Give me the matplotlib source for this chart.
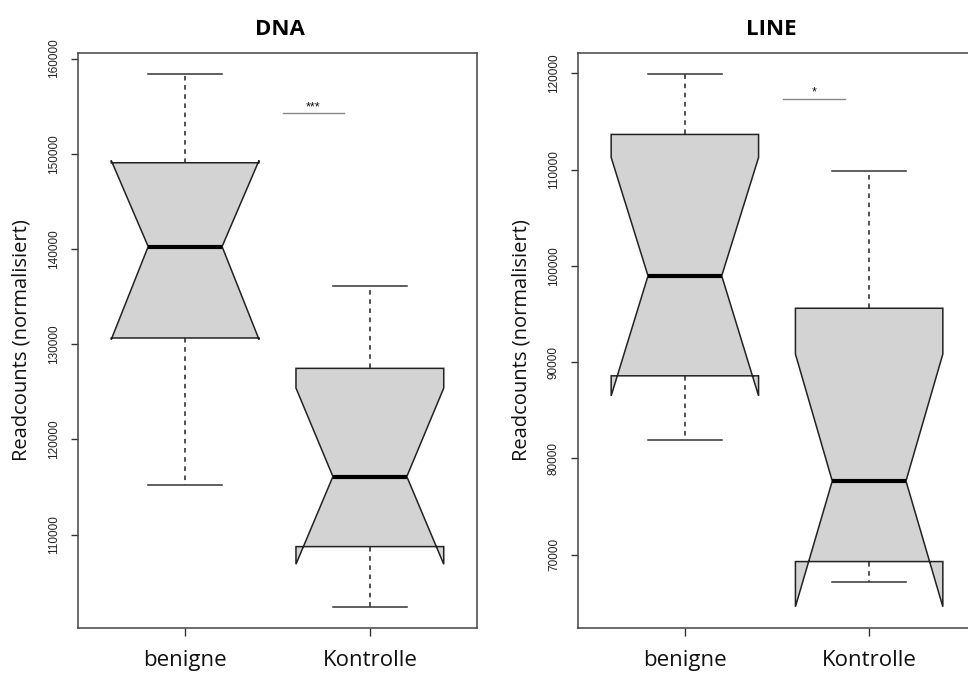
import matplotlib.pyplot as plt

groups = ["benigne", "Kontrolle"]

# DNA: whisker low, Q1, median, Q3, whisker high, notch low, notch high
dna_whislo = [115240, 102440]
dna_q1 = [130660, 108750]
dna_med = [140260, 116110]
dna_q3 = [149060, 127470]
dna_whishi = [158350, 136160]
dna_cilo = [130500, 106900]
dna_cihi = [149300, 125400]

# LINE
line_whislo = [81880, 67190]
line_q1 = [88570, 69270]
line_med = [98960, 77640]
line_q3 = [113650, 95590]
line_whishi = [119900, 109820]
line_cilo = [86490, 64580]
line_cihi = [111260, 90830]

dna_ticks = [110000, 120000, 130000, 140000, 150000, 160000]
line_ticks = [70000, 80000, 90000, 100000, 110000, 120000]

dna_sig = ("***", 1.53, 1.86, 154250)
line_sig = ("*", 1.53, 1.87, 117370)

label_font = "Open Sans"
tick_font = "Liberation Sans"


def make_stats(whislo, q1, med, q3, whishi, cilo, cihi):
    stats = []
    for i in range(len(groups)):
        stats.append(dict(whislo=whislo[i], q1=q1[i], med=med[i], q3=q3[i],
                          whishi=whishi[i], cilo=cilo[i], cihi=cihi[i],
                          fliers=[], label=groups[i]))
    return stats


def draw_panel(ax, stats, ticks, title, sig, title_x):
    ax.bxp(stats, positions=[1, 2], widths=0.8, shownotches=True,
           patch_artist=True, showfliers=False,
           boxprops=dict(facecolor="#d3d3d3", edgecolor="#222222", linewidth=1.1),
           medianprops=dict(color="black", linewidth=3, solid_capstyle="butt"),
           whiskerprops=dict(color="#222222", linewidth=1.1, linestyle=(0, (3, 3))),
           capprops=dict(color="#333333", linewidth=1.1))

    lo = min(min(s["whislo"], s["cilo"]) for s in stats)
    hi = max(max(s["whishi"], s["cihi"]) for s in stats)
    pad = 0.04 * (hi - lo)
    ax.set_ylim(lo - pad, hi + pad)
    ax.set_xlim(0.42, 2.58)

    ax.set_yticks(ticks)
    ax.set_yticklabels([str(t) for t in ticks], rotation=90, va="center",
                       fontsize=8.5, family=tick_font, color="#222222")
    ax.set_xticks([1, 2])
    ax.set_xticklabels(groups, fontsize=16, family=label_font, color="#111111")
    ax.tick_params(axis="y", length=5, width=1, pad=8, color="#333333")
    ax.tick_params(axis="x", length=6, width=1, pad=10, color="#333333")
    for sp in ax.spines.values():
        sp.set_color("#444444")
        sp.set_linewidth(1.1)

    ax.set_ylabel("Readcounts (normalisiert)", fontsize=14.5, family=label_font,
                  color="#111111", labelpad=12)
    ax.set_title(title, fontsize=16, fontweight="bold", family=label_font,
                 pad=13, x=title_x)

    text, x0, x1, y = sig
    ax.plot([x0, x1], [y, y], color="#888888", linewidth=1)
    ax.text((x0 + x1) / 2, y, text, ha="center", va="bottom", fontsize=9,
            family=tick_font, color="#111111")


fig = plt.figure(figsize=(9.68, 6.75), dpi=100)
ax1 = fig.add_axes([78 / 968, 47 / 675, 399 / 968, 575 / 675])
ax2 = fig.add_axes([578 / 968, 47 / 675, 398 / 968, 575 / 675])

draw_panel(ax1, make_stats(dna_whislo, dna_q1, dna_med, dna_q3, dna_whishi,
                           dna_cilo, dna_cihi), dna_ticks, "DNA", dna_sig, 0.505)
draw_panel(ax2, make_stats(line_whislo, line_q1, line_med, line_q3, line_whishi,
                           line_cilo, line_cihi), line_ticks, "LINE", line_sig, 0.485)

fig.savefig("out.png", dpi=100)
